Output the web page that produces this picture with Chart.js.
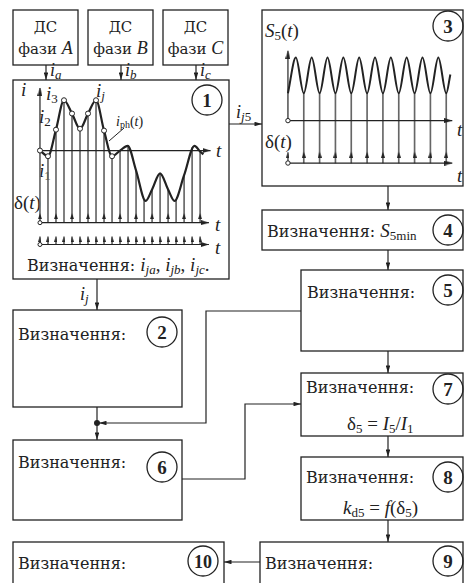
<!DOCTYPE html>
<html>
<head>
<meta charset="utf-8">
<script src="https://cdn.jsdelivr.net/npm/chart.js@4.4.1/dist/chart.umd.min.js"></script>
<style>
body { margin: 0; background: #fff; }
#wrap { position: relative; width: 465px; height: 583px; overflow: hidden; }
svg, canvas { position: absolute; }
.it { font-style: italic; }
</style>
</head>
<body>
<div id="wrap">
<svg width="465" height="583" style="left:0;top:0">
  <defs>
    <marker id="ar" viewBox="0 0 10 6" refX="10" refY="3" markerWidth="8" markerHeight="4.5" markerUnits="userSpaceOnUse" orient="auto">
      <path d="M0,0 L10,3 L0,6 z" fill="#222"/>
    </marker>
  </defs>
  <g stroke="#222" stroke-width="1.3" fill="none">
    <rect x="13" y="10" width="65" height="55"/>
    <rect x="88" y="10" width="65" height="55"/>
    <rect x="163" y="10" width="65" height="55"/>
    <rect x="13" y="80" width="216" height="199"/>
    <rect x="262" y="10" width="201" height="176"/>
    <rect x="262" y="210" width="201" height="40"/>
    <rect x="301" y="270" width="162" height="81"/>
    <rect x="13" y="310" width="169" height="97"/>
    <rect x="301" y="373" width="162" height="63"/>
    <rect x="13" y="440" width="169" height="80"/>
    <rect x="301" y="457" width="162" height="63"/>
    <rect x="13" y="542" width="211" height="50"/>
    <rect x="260" y="542" width="203" height="50"/>

    <circle cx="207" cy="100" r="15"/>
    <circle cx="448" cy="26" r="15"/>
    <circle cx="162" cy="332" r="15"/>
    <circle cx="448" cy="230" r="15"/>
    <circle cx="448" cy="290" r="15"/>
    <circle cx="162" cy="467" r="15"/>
    <circle cx="448" cy="389" r="15"/>
    <circle cx="448" cy="477" r="15"/>
    <circle cx="448" cy="561" r="15"/>
    <circle cx="203" cy="561" r="15"/>
  </g>
  <g stroke="#222" stroke-width="1.2" fill="none">
    <line x1="46" y1="65" x2="46" y2="80" marker-end="url(#ar)"/>
    <line x1="121" y1="65" x2="121" y2="80" marker-end="url(#ar)"/>
    <line x1="196" y1="65" x2="196" y2="80" marker-end="url(#ar)"/>
    <line x1="229" y1="124" x2="262" y2="124" marker-end="url(#ar)"/>
    <line x1="97" y1="279" x2="97" y2="310" marker-end="url(#ar)"/>
    <line x1="388" y1="186" x2="388" y2="210" marker-end="url(#ar)"/>
    <line x1="388" y1="250" x2="388" y2="270" marker-end="url(#ar)"/>
    <line x1="388" y1="351" x2="388" y2="373" marker-end="url(#ar)"/>
    <line x1="388" y1="436" x2="388" y2="457" marker-end="url(#ar)"/>
    <line x1="388" y1="520" x2="388" y2="542" marker-end="url(#ar)"/>
    <line x1="260" y1="562" x2="224" y2="562" marker-end="url(#ar)"/>
    <polyline points="301,311 206,311 206,423 99,423" marker-end="url(#ar)"/>
    <line x1="97" y1="407" x2="97" y2="440" marker-end="url(#ar)"/>
    <polyline points="182,479 245,479 245,404 301,404" marker-end="url(#ar)"/>
    <line x1="109" y1="141" x2="124" y2="128" stroke-width="1"/>
  </g>
  <circle cx="97" cy="423" r="3" fill="#222"/>

  <g font-family="Liberation Serif" fill="#222" font-size="19" font-weight="bold" text-anchor="middle">
    <text x="207" y="106.5">1</text>
    <text x="448" y="32.5">3</text>
    <text x="162" y="338.5">2</text>
    <text x="448" y="236.5">4</text>
    <text x="448" y="296.5">5</text>
    <text x="162" y="473.5">6</text>
    <text x="448" y="395.5">7</text>
    <text x="448" y="483.5">8</text>
    <text x="448" y="567.5">9</text>
    <text x="203" y="567.5" font-size="18">10</text>
  </g>

  <g font-family="DejaVu Serif" fill="#222" font-size="15" text-anchor="middle">
    <text x="45.5" y="32">ДС</text>
    <text x="45.5" y="54">фази <tspan class="it" font-family="Liberation Serif" font-size="18">A</tspan></text>
    <text x="120.5" y="32">ДС</text>
    <text x="120.5" y="54">фази <tspan class="it" font-family="Liberation Serif" font-size="18">B</tspan></text>
    <text x="195.5" y="32">ДС</text>
    <text x="195.5" y="54">фази <tspan class="it" font-family="Liberation Serif" font-size="18">C</tspan></text>
  </g>
  <g font-family="Liberation Serif" fill="#222" font-size="18" class="it">
    <text x="50" y="76">i<tspan font-size="13" dy="3">a</tspan></text>
    <text x="125" y="76">i<tspan font-size="13" dy="3">b</tspan></text>
    <text x="200" y="76">i<tspan font-size="13" dy="3">c</tspan></text>
    <text x="236" y="118">i<tspan font-size="13" dy="3">j</tspan><tspan font-size="13" font-style="normal">5</tspan></text>
    <text x="80" y="300">i<tspan font-size="13" dy="3">j</tspan></text>
  </g>

  <g font-family="Liberation Serif" fill="#222" font-size="19">
    <text x="21" y="96" class="it">i</text>
    <text x="46" y="100"><tspan class="it">i</tspan><tspan font-size="13" dy="3">3</tspan></text>
    <text x="96" y="97"><tspan class="it">i</tspan><tspan font-size="13" dy="3" class="it">j</tspan></text>
    <text x="39" y="123"><tspan class="it">i</tspan><tspan font-size="13" dy="3">2</tspan></text>
    <text x="39" y="177"><tspan class="it">i</tspan><tspan font-size="13" dy="3">1</tspan></text>
    <text x="116" y="126" font-size="14"><tspan class="it">i</tspan><tspan font-size="10" dy="2">ph</tspan><tspan dy="-2">(</tspan><tspan class="it">t</tspan>)</text>
    <text x="216" y="157" class="it">t</text>
    <text x="14" y="209">δ(<tspan class="it">t</tspan>)</text>
    <text x="215" y="231" class="it">t</text>
    <text x="215" y="254" class="it">t</text>
    <text x="27" y="271"><tspan font-family="DejaVu Serif" font-size="16">Визначення: </tspan><tspan class="it">i</tspan><tspan font-size="13" dy="3" class="it">ja</tspan><tspan dy="-3">, </tspan><tspan class="it">i</tspan><tspan font-size="13" dy="3" class="it">jb</tspan><tspan dy="-3">, </tspan><tspan class="it">i</tspan><tspan font-size="13" dy="3" class="it">jc</tspan><tspan dy="-3">.</tspan></text>

    <text x="265" y="37"><tspan class="it">S</tspan><tspan font-size="13" dy="3">5</tspan><tspan dy="-3">(</tspan><tspan class="it">t</tspan>)</text>
    <text x="457" y="136" class="it">t</text>
    <text x="265" y="148">δ(<tspan class="it">t</tspan>)</text>
    <text x="457" y="182" class="it">t</text>

    <text x="267" y="237"><tspan font-family="DejaVu Serif" font-size="16">Визначення: </tspan><tspan class="it">S</tspan><tspan font-size="13" dy="3">5min</tspan></text>
    <text x="347" y="430">δ<tspan font-size="13" dy="3">5</tspan><tspan dy="-3"> = </tspan><tspan class="it">I</tspan><tspan font-size="13" dy="3">5</tspan><tspan dy="-3">/</tspan><tspan class="it">I</tspan><tspan font-size="13" dy="3">1</tspan></text>
    <text x="343" y="514"><tspan class="it">k</tspan><tspan font-size="13" dy="3">d5</tspan><tspan dy="-3"> = </tspan><tspan class="it">f</tspan>(δ<tspan font-size="13" dy="3">5</tspan><tspan dy="-3">)</tspan></text>
  </g>
  <g font-family="DejaVu Serif" fill="#222" font-size="16">
    <text x="307" y="298">Визначення:</text>
    <text x="18" y="340">Визначення:</text>
    <text x="306" y="393">Визначення:</text>
    <text x="18" y="468">Визначення:</text>
    <text x="306" y="483">Визначення:</text>
    <text x="18" y="569">Визначення:</text>
    <text x="265" y="569">Визначення:</text>
  </g>
</svg>
<canvas id="c1" width="214" height="197" style="left:14px;top:81px"></canvas>
<canvas id="c3" width="199" height="174" style="left:263px;top:11px"></canvas>
</div>
<script>
// блок 1: фазний струм i_ph(t) (опорні точки кривої)
const curveT = [0, 1, 2, 3, 4, 5, 6, 7, 8, 9, 10, 10.95, 12, 13.2, 14, 15, 16, 16.8, 18, 19.3, 20, 20.4];
const curveI = [0, -6, 22, 53, 39, 23, 39, 53, 21, -6, 0, 5, -21, -53, -41, -24, -41, -53, -26, 5, -1, -4];

// відліки i_1 ... i_j
const sampleK = [0, 1, 2, 3, 4, 5, 6, 7, 8, 9, 10, 11, 12, 13, 14, 15, 16, 17, 18, 19, 20];
const sampleI = [0, -6, 22, 53, 39, 23, 39, 53, 21, -6, 0, 5, -21, -52, -41, -24, -41, -52, -26, 3, -1];
const markedCount = 10;   // відліки з кружечками

// блок 3: S5(t) (вершини і западини) та моменти відліків
const s5U = [0, 0.5, 1, 1.5, 2, 2.5, 3, 3.5, 4, 4.5, 5, 5.5, 6, 6.5, 7, 7.5, 8, 8.5, 9, 9.5, 10, 10.26];
const s5V = [29, 67, 29, 67, 29, 67, 29, 67, 29, 67, 29, 67, 29, 67, 29, 67, 29, 67, 29, 67, 29, 49];
const s5Pulses = [1, 2, 3, 4, 5, 6, 7, 8, 9, 10];

const INK = '#222';
const STEM = '#666';

function arrowImg(w, h) {
  const c = document.createElement('canvas');
  c.width = w; c.height = h * 2;
  const g = c.getContext('2d');
  g.fillStyle = INK;
  g.beginPath();
  g.moveTo(w / 2, h);
  g.lineTo(w, 2 * h);
  g.lineTo(0, 2 * h);
  g.closePath();
  g.fill();
  return c;
}
const upArrow = arrowImg(5, 8);
const stemArrow = arrowImg(4, 6);
const smallUp = arrowImg(3, 5);

const seg = (pts, w) => ({
  type: 'line', data: pts, borderColor: INK, borderWidth: w || 1.2,
  pointRadius: 0, tension: 0, clip: false, order: 4
});
const arrows = (pts, img, rot) => ({
  type: 'scatter', data: pts, pointStyle: img, rotation: rot || 0,
  pointRadius: 4, clip: false, order: 2
});
const rings = (pts, r) => ({
  type: 'scatter', data: pts, pointStyle: 'circle', pointRadius: r || 2.5,
  backgroundColor: '#fff', borderColor: INK, borderWidth: 1, clip: false, order: 1
});
const stems = (pts) => ({
  type: 'bar', data: pts, backgroundColor: STEM, barThickness: 1,
  grouped: false, order: 5
});

function baseOptions(x0, x1, y0, y1) {
  return {
    responsive: false, animation: false, events: [],
    layout: { padding: 0 },
    plugins: { legend: { display: false }, tooltip: { enabled: false } },
    scales: {
      x: { type: 'linear', display: false, min: x0, max: x1, offset: false },
      y: { type: 'linear', display: false, min: y0, max: y1 }
    }
  };
}

// ---- блок 1
const d1 = -76, d2 = -99, tEnd = 21.3, dEnd = 21.1;
new Chart(document.getElementById('c1'), {
  type: 'scatter',
  data: {
    datasets: [
      stems(sampleK.map((k, i) => ({ x: k, y: [d1, sampleI[i]] }))),
      stems(sampleK.map(k => ({ x: k, y: [d2, d2 + 8] }))),
      seg([{ x: 0, y: 0 }, { x: tEnd, y: 0 }]),
      seg([{ x: 0, y: 0 }, { x: 0, y: 66 }]),
      seg([{ x: 0, y: d1 }, { x: dEnd, y: d1 }]),
      seg([{ x: 0, y: d2 }, { x: dEnd, y: d2 }]),
      {
        type: 'line', data: curveT.map((t, i) => ({ x: t, y: curveI[i] })),
        borderColor: INK, borderWidth: 2.2, pointRadius: 0,
        cubicInterpolationMode: 'monotone', clip: false, order: 3
      },
      arrows(sampleK.filter(k => k % 2 === 0).map(k => ({ x: k, y: d1 + 10 })), stemArrow),
      arrows(sampleK.map(k => ({ x: k, y: d2 + 8 })), smallUp),
      arrows([{ x: 0, y: 66 }], upArrow),
      arrows([{ x: tEnd, y: 0 }, { x: dEnd, y: d1 }, { x: dEnd, y: d2 }], upArrow, 90),
      rings(sampleK.slice(0, markedCount).map((k, i) => ({ x: k, y: sampleI[i] }))),
      rings([{ x: 0, y: d1 }, { x: 0, y: d2 }], 2)
    ]
  },
  options: baseOptions(-2.619, 22.857, -129, 68)
});

// ---- блок 3
const dd = -45, uEnd = 10.38;
new Chart(document.getElementById('c3'), {
  type: 'scatter',
  data: {
    datasets: [
      stems(s5Pulses.map(u => ({ x: u, y: [dd, s5V[2 * u]] }))),
      stems([{ x: 0, y: [dd, dd + 11] }]),
      seg([{ x: 0, y: 0 }, { x: uEnd, y: 0 }]),
      seg([{ x: 0, y: 0 }, { x: 0, y: 74 }]),
      seg([{ x: 0, y: dd }, { x: uEnd, y: dd }]),
      {
        type: 'line', data: s5U.map((u, i) => ({ x: u, y: s5V[i] })),
        borderColor: INK, borderWidth: 2, pointRadius: 0,
        cubicInterpolationMode: 'monotone', clip: false, order: 3
      },
      arrows(s5Pulses.map(u => ({ x: u, y: dd + 12 })), stemArrow),
      arrows([{ x: 0, y: dd + 11 }], smallUp),
      arrows([{ x: 0, y: 74 }], upArrow),
      arrows([{ x: uEnd, y: 0 }, { x: uEnd, y: dd }], upArrow, 90),
      rings([{ x: 0, y: 0 }, { x: 0, y: dd }], 2.2)
    ]
  },
  options: baseOptions(-1.26, 10.68, -63, 111)
});
</script>
</body>
</html>
